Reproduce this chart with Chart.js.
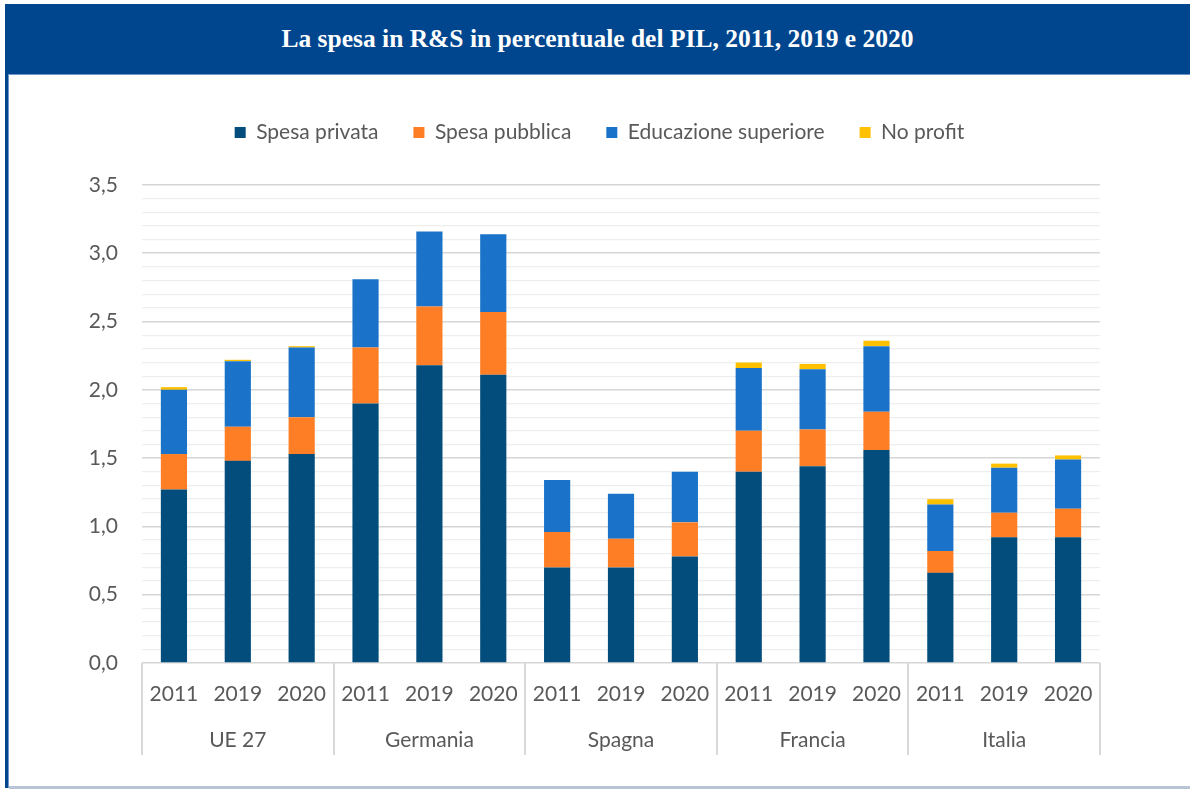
<!DOCTYPE html>
<html>
<head>
<meta charset="utf-8">
<script src="https://cdn.jsdelivr.net/npm/chart.js@4.4.1/dist/chart.umd.min.js"></script>
<style>
  html, body { margin: 0; padding: 0; background: #ffffff; width: 1190px; height: 790px; overflow: hidden; }
  #header {
    position: absolute; left: 5px; top: 4px; width: 1185px; height: 70px;
    background: #00468f; border-bottom: 1px solid #6f95c8;
    color: #ffffff; font-family: "Liberation Serif", "DejaVu Serif", serif; font-weight: bold;
    font-size: 25.5px; text-align: center; line-height: 70px;
  }
  #leftbar { position: absolute; left: 5px; top: 74px; width: 3px; height: 714px; background: #00468f; border-right: 1px solid #6f95c8; }
  #bottomline { position: absolute; left: 9px; top: 786px; width: 1181px; height: 3px; background: #b9c5d7; }
  #wrap { position: absolute; left: 9px; top: 75px; width: 1181px; height: 711px; }
</style>
</head>
<body>
<div id="header">La spesa in R&amp;S in percentuale del PIL, 2011, 2019 e 2020</div>
<div id="leftbar"></div>
<div id="bottomline"></div>
<div id="wrap"><canvas id="c" width="1181" height="711"></canvas></div>
<script>
// ---- Data ----
const groups = ['UE 27', 'Germania', 'Spagna', 'Francia', 'Italia'];
const years = ['2011', '2019', '2020'];
const spesaPrivata   = [1.27, 1.48, 1.53, 1.90, 2.18, 2.11, 0.70, 0.70, 0.78, 1.40, 1.44, 1.56, 0.66, 0.92, 0.92];
const spesaPubblica  = [0.26, 0.25, 0.27, 0.41, 0.43, 0.46, 0.26, 0.21, 0.25, 0.30, 0.27, 0.28, 0.16, 0.18, 0.21];
const educazioneSup  = [0.47, 0.48, 0.51, 0.50, 0.55, 0.57, 0.38, 0.33, 0.37, 0.46, 0.44, 0.48, 0.34, 0.33, 0.36];
const noProfit       = [0.02, 0.01, 0.01, 0.00, 0.00, 0.00, 0.00, 0.00, 0.00, 0.04, 0.04, 0.04, 0.04, 0.03, 0.03];
const yTicksMajor = [0, 0.5, 1.0, 1.5, 2.0, 2.5, 3.0, 3.5];

const labels = [];
groups.forEach(g => years.forEach(y => labels.push(y)));

const FONT = 'Lato, "Open Sans", sans-serif';
const TXT = '#595959';

const legendGap = {
  id: 'legendGap',
  afterInit(chart) {
    const lg = chart.legend;
    const orig = lg.fit;
    lg.fit = function () { orig.call(this); this.height += 32; };
  }
};

const groupPlugin = {
  id: 'groupAxis',
  afterDraw(chart) {
    const ctx = chart.ctx;
    const xs = chart.scales.x;
    const n = labels.length;
    const step = (xs.right - xs.left) / n;
    const y0 = chart.chartArea.bottom;
    ctx.save();
    ctx.strokeStyle = '#d9d9d9';
    ctx.lineWidth = 2;
    for (let g = 0; g <= groups.length; g++) {
      const x = Math.round(xs.left + g * years.length * step);
      ctx.beginPath();
      ctx.moveTo(x, y0);
      ctx.lineTo(x, y0 + 92);
      ctx.stroke();
    }
    ctx.fillStyle = TXT;
    ctx.font = '21px ' + FONT;
    ctx.textAlign = 'center';
    ctx.textBaseline = 'middle';
    groups.forEach((g, i) => {
      const cx = xs.left + (i * years.length + years.length / 2) * step;
      ctx.fillText(g, cx, y0 + 77);
    });
    ctx.restore();
  }
};

new Chart(document.getElementById('c'), {
  type: 'bar',
  data: {
    labels: labels,
    datasets: [
      { label: 'Spesa privata', data: spesaPrivata, backgroundColor: '#034d7c' },
      { label: 'Spesa pubblica', data: spesaPubblica, backgroundColor: '#fd7e24' },
      { label: 'Educazione superiore', data: educazioneSup, backgroundColor: '#1a73c8' },
      { label: 'No profit', data: noProfit, backgroundColor: '#ffc000' }
    ]
  },
  options: {
    responsive: false,
    animation: false,
    layout: { padding: { left: 0, right: 0, top: 12, bottom: 0 } },
    datasets: { bar: { categoryPercentage: 1.0, barPercentage: 0.41, borderWidth: 0 } },
    plugins: {
      title: { display: false },
      tooltip: { enabled: false },
      legend: {
        position: 'top',
        labels: {
          boxWidth: 11, boxHeight: 11, padding: 35,
          color: TXT, font: { family: FONT, size: 21 }
        }
      }
    },
    scales: {
      x: {
        stacked: true,
        grid: { display: false, drawTicks: false },
        border: { display: false },
        ticks: { color: TXT, font: { family: FONT, size: 21 }, padding: 19, maxRotation: 0, autoSkip: false },
        afterFit(s) { s.height = 123; }
      },
      y: {
        stacked: true,
        min: 0, max: 3.5,
        border: { display: false },
        grid: {
          drawTicks: false,
          color(ctx) {
            const v = Math.round(ctx.tick.value * 10);
            return v % 5 === 0 ? '#d6d6d6' : '#eeeeee';
          },
          lineWidth(ctx) {
            const v = Math.round(ctx.tick.value * 10);
            return v % 5 === 0 ? 1.6 : 1.3;
          }
        },
        ticks: {
          stepSize: 0.1,
          autoSkip: false,
          padding: 24,
          color: TXT,
          font: { family: FONT, size: 21 },
          callback(v) {
            const k = Math.round(v * 10);
            if (k % 5 !== 0) return '';
            const major = yTicksMajor.find(t => Math.round(t * 10) === k);
            return major.toFixed(1).replace('.', ',');
          }
        },
        afterFit(s) { s.width = 133; }
      },
      yRight: {
        position: 'right',
        display: true,
        min: 0, max: 3.5,
        grid: { drawOnChartArea: false, drawTicks: false, display: false },
        border: { display: false },
        ticks: { display: false },
        afterFit(s) { s.width = 90; }
      }
    }
  },
  plugins: [groupPlugin, legendGap]
});
</script>
</body>
</html>
